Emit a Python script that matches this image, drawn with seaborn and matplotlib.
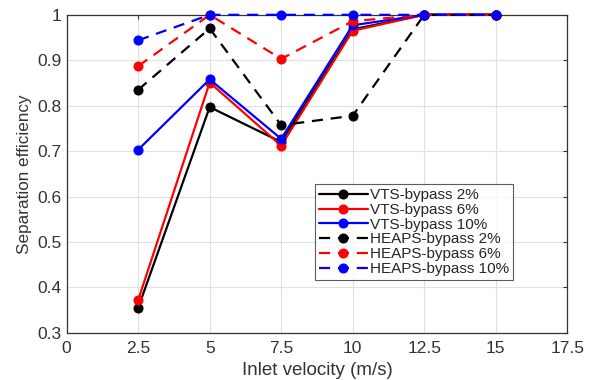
import pandas as pd
import matplotlib
matplotlib.use('Agg')
import matplotlib.pyplot as plt
import seaborn as sns

# Inlet velocity (m/s)
velocity = [2.5, 5, 7.5, 10, 12.5, 15]

# Separation efficiency for each configuration
vts_2 = [0.355, 0.797, 0.720, 0.968, 1.0, 1.0]
vts_6 = [0.372, 0.851, 0.712, 0.965, 1.0, 1.0]
vts_10 = [0.703, 0.858, 0.727, 0.977, 1.0, 1.0]
heaps_2 = [0.835, 0.970, 0.757, 0.778, 1.0, 1.0]
heaps_6 = [0.887, 1.0, 0.903, 0.986, 1.0, 1.0]
heaps_10 = [0.944, 1.0, 1.0, 1.0, 1.0, 1.0]

series = [
    ('VTS-bypass 2%', vts_2, 'black', '-'),
    ('VTS-bypass 6%', vts_6, 'red', '-'),
    ('VTS-bypass 10%', vts_10, 'blue', '-'),
    ('HEAPS-bypass 2%', heaps_2, 'black', (0, (5, 3.5))),
    ('HEAPS-bypass 6%', heaps_6, 'red', (0, (5, 3.5))),
    ('HEAPS-bypass 10%', heaps_10, 'blue', (0, (5, 3.5))),
]

sns.set_style('whitegrid')
plt.rcParams['font.family'] = ['Liberation Sans', 'DejaVu Sans']

fig = plt.figure(figsize=(6.06, 3.80), dpi=100)
ax = fig.add_axes([0.11, 0.124, 0.826, 0.837])

for i, (label, vals, color, ls) in enumerate(series):
    df = pd.DataFrame({'v': velocity, 'eff': vals})
    sns.lineplot(data=df, x='v', y='eff', ax=ax, color=color, linestyle=ls,
                 marker='o', markersize=6.5, markeredgecolor=color,
                 linewidth=1.6, label=label, zorder=3 + i, clip_on=False)

ax.set_xlim(0, 17.5)
ax.set_ylim(0.3, 1.0)
ax.set_xticks([0, 2.5, 5, 7.5, 10, 12.5, 15, 17.5])
ax.set_xticklabels(['0', '2.5', '5', '7.5', '10', '12.5', '15', '17.5'])
ax.set_yticks([0.3, 0.4, 0.5, 0.6, 0.7, 0.8, 0.9, 1.0])
ax.set_yticklabels(['0.3', '0.4', '0.5', '0.6', '0.7', '0.8', '0.9', '1'])
ax.grid(True, color='#e0e0e0', linewidth=0.8)
for sp in ax.spines.values():
    sp.set_color('#333333')
    sp.set_linewidth(0.9)
    sp.set_zorder(2)
ax.tick_params(direction='in', length=3, colors='#333333', labelsize=12.5,
               top=True, right=True, labelcolor='#333333')
ax.tick_params(axis='x', pad=6)

ax.set_xlabel('Inlet velocity (m/s)', fontsize=13.5, color='#333333')
ax.set_ylabel('Separation efficiency', fontsize=12.3, color='#333333')

leg = ax.legend(loc='lower left', bbox_to_anchor=(0.496, 0.167), fontsize=11,
                frameon=True, fancybox=False, borderpad=0.25, labelspacing=0.05,
                handlelength=3.2, handletextpad=0.15, borderaxespad=0)
leg.get_frame().set_edgecolor('#333333')
leg.get_frame().set_linewidth(0.8)
leg.set_zorder(10)

fig.savefig('out.png', dpi=100)
